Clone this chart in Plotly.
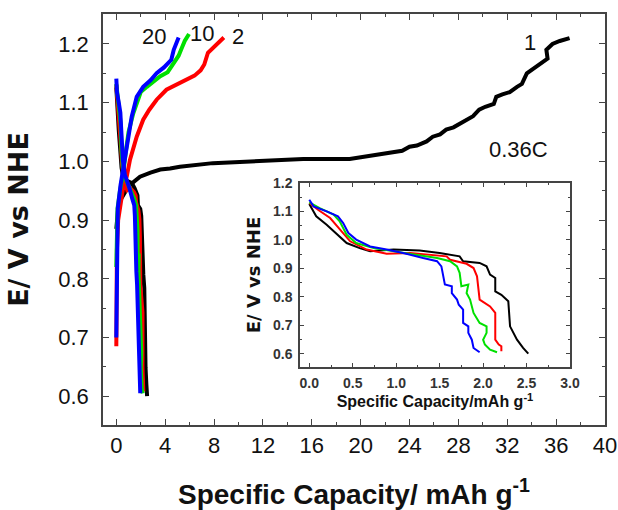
import plotly.graph_objects as go

# ---- cycle numbers and colours ----
cycles = ["1", "2", "10", "20"]
colors = ["#000000", "#ff0000", "#00e000", "#0000ff"]

# ---- charge branches (capacity mAh/g, potential V vs NHE) ----
charge_x = {
    "1": [0.0, 0.03, 0.15, 0.33, 0.6, 0.85, 1.12, 1.5, 1.94, 2.8, 3.6, 4.4, 5.2, 7.9, 11.5,
          15.3, 19.1, 20.7, 22.4, 23.4, 24.0, 24.6, 25.4, 25.9, 26.5, 27.0, 27.6, 28.1, 28.7,
          29.2, 29.7, 30.2, 30.9, 31.1, 31.6, 32.2, 32.8, 33.2, 33.6, 34.3, 34.9, 35.3, 35.2,
          35.7, 36.3, 36.9, 37.1],
    "2": [0.0, 0.02, 0.05, 0.15, 0.3, 0.57, 0.85, 1.12, 1.67, 2.2, 2.7, 3.3, 4.1, 5.2, 5.9,
          6.4, 6.9, 7.2, 7.5, 8.1, 8.8],
    "10": [0.0, 0.03, 0.1, 0.3, 0.57, 0.8, 1.0, 1.39, 1.8, 2.0, 2.5, 3.0, 3.6, 4.2, 4.7, 5.1,
           5.3, 5.6, 5.95],
    "20": [0.0, 0.02, 0.05, 0.12, 0.35, 0.57, 0.71, 0.98, 1.26, 1.67, 2.2, 2.8, 3.3, 3.9, 4.5,
           4.7, 5.0, 5.1],
}
charge_y = {
    "1": [0.885, 0.90, 0.92, 0.934, 0.945, 0.952, 0.96, 0.967, 0.974, 0.981, 0.986, 0.988,
          0.991, 0.997, 1.000, 1.004, 1.004, 1.009, 1.015, 1.018, 1.025, 1.027, 1.034, 1.042,
          1.046, 1.054, 1.058, 1.064, 1.071, 1.077, 1.088, 1.093, 1.098, 1.110, 1.114, 1.118,
          1.127, 1.132, 1.150, 1.160, 1.170, 1.175, 1.190, 1.200, 1.205, 1.208, 1.210],
    "2": [0.685, 0.75, 0.85, 0.90, 0.924, 0.957, 0.974, 1.003, 1.042, 1.071, 1.088, 1.105,
          1.122, 1.133, 1.140, 1.146, 1.155, 1.165, 1.185, 1.197, 1.211],
    "10": [0.82, 0.87, 0.92, 0.95, 0.98, 1.02, 1.05, 1.082, 1.105, 1.118, 1.127, 1.135, 1.145,
           1.152, 1.166, 1.18, 1.19, 1.205, 1.217],
    "20": [0.70, 0.76, 0.85, 0.92, 0.96, 0.986, 1.008, 1.042, 1.076, 1.11, 1.127, 1.138, 1.15,
           1.16, 1.173, 1.19, 1.205, 1.211],
}

# ---- discharge branches ----
discharge_x = {
    "1": [0, 0.08, 0.2, 0.35, 0.43, 0.58, 0.7, 0.97, 1.27, 1.5, 1.73, 1.77, 1.96, 2.04, 2.08,
          2.14, 2.14, 2.21, 2.29, 2.31, 2.39, 2.46, 2.52],
    "2": [0, 0.1, 0.24, 0.39, 0.47, 0.66, 0.89, 1.16, 1.43, 1.58, 1.62, 1.81, 1.89, 1.93, 1.96,
          2.08, 2.14, 2.14, 2.18, 2.21, 2.21],
    "10": [0, 0.12, 0.28, 0.35, 0.43, 0.54, 0.74, 0.97, 1.24, 1.47, 1.62, 1.7, 1.73, 1.75, 1.83,
           1.81, 1.85, 1.89, 1.96, 2.04, 2.04, 2.0, 2.02, 2.08, 2.16],
    "20": [0, 0.05, 0.2, 0.33, 0.39, 0.45, 0.54, 0.7, 0.89, 1.08, 1.31, 1.47, 1.52, 1.54, 1.56,
           1.64, 1.64, 1.7, 1.72, 1.77, 1.77, 1.83, 1.83, 1.87, 1.89, 1.96],
}
discharge_y = {
    "1": [1.126, 1.083, 1.053, 1.012, 0.989, 0.971, 0.96, 0.966, 0.963, 0.954, 0.942, 0.925,
          0.919, 0.907, 0.878, 0.866, 0.819, 0.807, 0.784, 0.696, 0.649, 0.62, 0.6],
    "2": [1.13, 1.106, 1.077, 1.024, 0.995, 0.966, 0.951, 0.954, 0.948, 0.942, 0.93, 0.916,
          0.901, 0.872, 0.79, 0.766, 0.743, 0.649, 0.632, 0.626, 0.608],
    "10": [1.132, 1.112, 1.089, 1.065, 1.018, 0.989, 0.971, 0.96, 0.948, 0.936, 0.925, 0.907,
           0.884, 0.837, 0.843, 0.813, 0.79, 0.743, 0.708, 0.696, 0.673, 0.649, 0.632, 0.614,
           0.605],
    "20": [1.141, 1.118, 1.1, 1.083, 1.059, 1.024, 1.001, 0.977, 0.966, 0.954, 0.936, 0.925,
           0.907, 0.878, 0.843, 0.837, 0.813, 0.79, 0.772, 0.755, 0.708, 0.696, 0.673, 0.649,
           0.62, 0.605],
}

main_xticks = [0, 4, 8, 12, 16, 20, 24, 28, 32, 36, 40]
main_yticks = [0.6, 0.7, 0.8, 0.9, 1.0, 1.1, 1.2]
inset_xticks = [0.0, 0.5, 1.0, 1.5, 2.0, 2.5, 3.0]
inset_yticks = [0.6, 0.7, 0.8, 0.9, 1.0, 1.1, 1.2]

# cycle labels and rate: (text, x, y)
labels = [("20", 3.06, 1.212), ("10", 7.0, 1.2185), ("2", 9.96, 1.212), ("1", 33.9, 1.203),
          ("0.36C", 32.9, 1.0196)]

FONT = "Arial, 'Liberation Sans', sans-serif"
WIDE = "'DejaVu Sans', Verdana, sans-serif"

fig = go.Figure()

for cyc, col in zip(cycles, colors):
    fig.add_trace(go.Scatter(x=charge_x[cyc], y=charge_y[cyc], mode="lines",
                             line=dict(color=col, width=4), xaxis="x", yaxis="y",
                             showlegend=False, hoverinfo="skip"))
    fig.add_trace(go.Scatter(x=discharge_x[cyc], y=discharge_y[cyc], mode="lines",
                             line=dict(color=col, width=4), xaxis="x", yaxis="y",
                             showlegend=False, hoverinfo="skip"))

for cyc, col in zip(cycles, colors):
    fig.add_trace(go.Scatter(x=discharge_x[cyc], y=discharge_y[cyc], mode="lines",
                             line=dict(color=col, width=2), xaxis="x2", yaxis="y2",
                             showlegend=False, hoverinfo="skip"))

axis_common = dict(showline=True, linecolor="#444", linewidth=1.5, mirror="allticks",
                   ticks="inside", tickcolor="#444", showgrid=False, zeroline=False,
                   automargin=False)

fig.update_layout(
    width=618, height=510,
    margin=dict(l=103, r=13, t=14, b=85),
    paper_bgcolor="white", plot_bgcolor="white",
    font=dict(family=FONT, color="#111"),
    xaxis=dict(**axis_common, range=[-1.09, 40], tickvals=main_xticks, ticklen=6, tickwidth=1.3,
               minor=dict(ticks="inside", ticklen=3, dtick=2, tick0=0, tickcolor="#444"),
               tickfont=dict(size=22, family=FONT), ticklabelstandoff=0,
               title=dict(text="<b>Specific Capacity/ mAh g<sup>-1</sup></b>",
                          font=dict(size=28, family=FONT), standoff=30)),
    yaxis=dict(**axis_common, range=[0.551, 1.251], tickvals=main_yticks, tickformat=".1f",
               ticklen=6, tickwidth=1.3,
               minor=dict(ticks="inside", ticklen=3, dtick=0.05, tick0=0.6, tickcolor="#444"),
               tickfont=dict(size=22, family=FONT), ticklabelstandoff=8,
               title=dict(text="<b>E/ V vs NHE</b>", font=dict(size=27, family=WIDE),
                          standoff=22)),
    xaxis2=dict(**axis_common, domain=[0.3924, 0.9303], anchor="y2", range=[-0.107, 3.0],
                tickvals=inset_xticks, tickformat=".1f", ticklen=4,
                minor=dict(ticks="inside", ticklen=2, dtick=0.25, tick0=0, tickcolor="#444"),
                tickfont=dict(size=14, family=FONT, color="#333", weight="bold"),
                ticklabelstandoff=2,
                title=dict(text="<b>Specific Capacity/mAh g<sup>-1</sup></b>",
                           font=dict(size=16, family=FONT), standoff=6)),
    yaxis2=dict(**axis_common, domain=[0.1411, 0.5888], anchor="x2", range=[0.553, 1.2],
                tickvals=inset_yticks, tickformat=".1f", ticklen=4,
                minor=dict(ticks="inside", ticklen=2, dtick=0.05, tick0=0.6, tickcolor="#444"),
                tickfont=dict(size=14, family=FONT, color="#333", weight="bold"),
                ticklabelstandoff=3,
                title=dict(text="<b>E/ V vs NHE</b>", font=dict(size=18, family=WIDE),
                           standoff=8)),
)

for text, lx, ly in labels:
    fig.add_annotation(x=lx, y=ly, xref="x", yref="y", text=text, showarrow=False,
                       font=dict(size=22, family=FONT, color="#111"))

fig.write_html("out.html")
